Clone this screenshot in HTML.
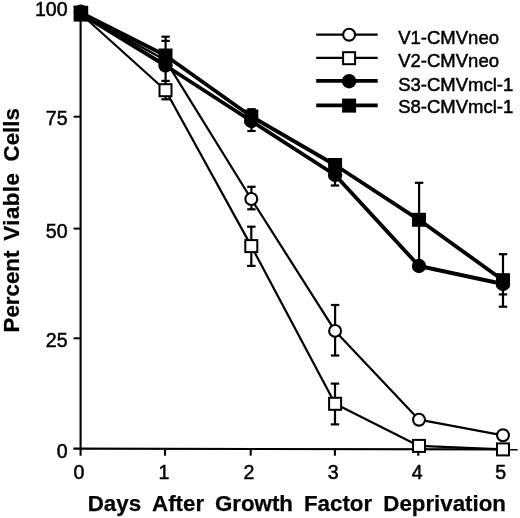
<!DOCTYPE html>
<html><head><meta charset="utf-8"><style>
html,body{margin:0;padding:0;background:#fff;}
body{width:520px;height:518px;overflow:hidden;}
svg{display:block;font-family:"Liberation Sans", sans-serif;filter:grayscale(100%);}
</style></head><body>
<svg width="520" height="518" viewBox="0 0 520 518">
<rect width="520" height="518" fill="#fff"/>
<line x1="80.6" y1="8" x2="80.6" y2="455.7" stroke="#000" stroke-width="2.1"/>
<line x1="73.3" y1="448.6" x2="517.6" y2="449.4" stroke="#000" stroke-width="2.1"/>
<line x1="73.6" y1="6.7" x2="81" y2="6.7" stroke="#000" stroke-width="2"/>
<line x1="73.6" y1="116.7" x2="81" y2="116.7" stroke="#000" stroke-width="2"/>
<line x1="73.6" y1="228.6" x2="81" y2="228.6" stroke="#000" stroke-width="2"/>
<line x1="73.6" y1="338.3" x2="81" y2="338.3" stroke="#000" stroke-width="2"/>
<line x1="165.0" y1="448" x2="165.0" y2="455.7" stroke="#000" stroke-width="2.1"/>
<line x1="250.7" y1="448" x2="250.7" y2="455.7" stroke="#000" stroke-width="2.1"/>
<line x1="334.9" y1="448" x2="334.9" y2="455.7" stroke="#000" stroke-width="2.1"/>
<line x1="418.3" y1="448" x2="418.3" y2="455.7" stroke="#000" stroke-width="2.1"/>
<line x1="503.0" y1="448" x2="503.0" y2="455.7" stroke="#000" stroke-width="2.1"/>
<polyline points="80.9,14.0 165.5,90.2 251.3,246.1 335.1,403.8 419.0,445.9 503.0,449.4" fill="none" stroke="#000" stroke-width="2.2" stroke-linejoin="round"/>
<polyline points="80.9,13.8 165.5,60.3 251.3,199.0 335.1,330.9 419.0,419.7 503.0,435.3" fill="none" stroke="#000" stroke-width="2.2" stroke-linejoin="round"/>
<polyline points="80.9,13.8 165.5,65.5 251.3,121.0 335.1,175.0 419.0,266.0 503.0,284.0" fill="none" stroke="#000" stroke-width="3.85" stroke-linejoin="round"/>
<polyline points="80.9,12.8 165.5,55.5 251.3,116.5 335.1,165.0 419.0,219.8 503.0,280.2" fill="none" stroke="#000" stroke-width="3.85" stroke-linejoin="round"/>
<line x1="165.6" y1="36.7" x2="165.6" y2="99.3" stroke="#000" stroke-width="2.2"/><line x1="161.4" y1="36.7" x2="169.8" y2="36.7" stroke="#000" stroke-width="2.2"/><line x1="161.4" y1="40.9" x2="169.8" y2="40.9" stroke="#000" stroke-width="2.2"/><line x1="161.4" y1="80.9" x2="169.8" y2="80.9" stroke="#000" stroke-width="2.2"/><line x1="161.4" y1="99.3" x2="169.8" y2="99.3" stroke="#000" stroke-width="2.2"/>
<line x1="251.5" y1="109.2" x2="251.5" y2="131" stroke="#000" stroke-width="2.2"/><line x1="247.3" y1="109.2" x2="255.7" y2="109.2" stroke="#000" stroke-width="2.2"/><line x1="247.3" y1="131" x2="255.7" y2="131" stroke="#000" stroke-width="2.2"/>
<line x1="251.4" y1="186.8" x2="251.4" y2="209.3" stroke="#000" stroke-width="2.2"/><line x1="247.2" y1="186.8" x2="255.6" y2="186.8" stroke="#000" stroke-width="2.2"/><line x1="247.2" y1="209.3" x2="255.6" y2="209.3" stroke="#000" stroke-width="2.2"/>
<line x1="251.3" y1="226.7" x2="251.3" y2="265.9" stroke="#000" stroke-width="2.2"/><line x1="247.1" y1="226.7" x2="255.5" y2="226.7" stroke="#000" stroke-width="2.2"/><line x1="247.1" y1="265.9" x2="255.5" y2="265.9" stroke="#000" stroke-width="2.2"/>
<line x1="335.0" y1="170" x2="335.0" y2="185.5" stroke="#000" stroke-width="2.2"/><line x1="330.8" y1="185.5" x2="339.2" y2="185.5" stroke="#000" stroke-width="2.2"/>
<line x1="335.1" y1="305" x2="335.1" y2="355.5" stroke="#000" stroke-width="2.2"/><line x1="330.9" y1="305" x2="339.3" y2="305" stroke="#000" stroke-width="2.2"/><line x1="330.9" y1="355.5" x2="339.3" y2="355.5" stroke="#000" stroke-width="2.2"/>
<line x1="335.0" y1="383.6" x2="335.0" y2="424.4" stroke="#000" stroke-width="2.2"/><line x1="330.8" y1="383.6" x2="339.2" y2="383.6" stroke="#000" stroke-width="2.2"/><line x1="330.8" y1="424.4" x2="339.2" y2="424.4" stroke="#000" stroke-width="2.2"/>
<line x1="419.1" y1="182.8" x2="419.1" y2="262" stroke="#000" stroke-width="2.2"/><line x1="414.9" y1="182.8" x2="423.3" y2="182.8" stroke="#000" stroke-width="2.2"/>
<line x1="503.0" y1="254.2" x2="503.0" y2="306.7" stroke="#000" stroke-width="2.2"/><line x1="498.8" y1="254.2" x2="507.2" y2="254.2" stroke="#000" stroke-width="2.2"/><line x1="498.8" y1="294.4" x2="507.2" y2="294.4" stroke="#000" stroke-width="2.2"/><line x1="498.8" y1="306.7" x2="507.2" y2="306.7" stroke="#000" stroke-width="2.2"/>
<circle cx="165.5" cy="60.3" r="5.95" fill="#fff" stroke="#000" stroke-width="2.1"/>
<circle cx="251.3" cy="199.0" r="5.95" fill="#fff" stroke="#000" stroke-width="2.1"/>
<circle cx="335.1" cy="330.9" r="5.95" fill="#fff" stroke="#000" stroke-width="2.1"/>
<circle cx="419.0" cy="419.7" r="5.95" fill="#fff" stroke="#000" stroke-width="2.1"/>
<circle cx="503.0" cy="435.3" r="5.95" fill="#fff" stroke="#000" stroke-width="2.1"/>
<rect x="159.50" y="84.20" width="12.0" height="12.0" fill="#fff" stroke="#000" stroke-width="2.0"/>
<rect x="245.30" y="240.10" width="12.0" height="12.0" fill="#fff" stroke="#000" stroke-width="2.0"/>
<rect x="329.10" y="397.80" width="12.0" height="12.0" fill="#fff" stroke="#000" stroke-width="2.0"/>
<rect x="413.00" y="439.90" width="12.0" height="12.0" fill="#fff" stroke="#000" stroke-width="2.0"/>
<rect x="497.00" y="443.40" width="12.0" height="12.0" fill="#fff" stroke="#000" stroke-width="2.0"/>
<circle cx="165.5" cy="65.5" r="7.2" fill="#000"/>
<circle cx="251.3" cy="121.0" r="7.2" fill="#000"/>
<circle cx="335.1" cy="175.0" r="7.2" fill="#000"/>
<circle cx="419.0" cy="266.0" r="7.2" fill="#000"/>
<circle cx="503.0" cy="284.0" r="7.2" fill="#000"/>
<rect x="158.50" y="48.50" width="14.0" height="14.0" fill="#000"/>
<rect x="244.30" y="109.50" width="14.0" height="14.0" fill="#000"/>
<rect x="328.10" y="158.00" width="14.0" height="14.0" fill="#000"/>
<rect x="412.00" y="212.80" width="14.0" height="14.0" fill="#000"/>
<rect x="496.00" y="273.20" width="14.0" height="14.0" fill="#000"/>
<rect x="73.6" y="5.8" width="14.6" height="15.8" fill="#000"/>
<circle cx="80.9" cy="11.6" r="7.2" fill="#000"/>
<line x1="316.2" y1="34.7" x2="377.7" y2="34.7" stroke="#000" stroke-width="2.2"/>
<line x1="316.2" y1="57.8" x2="377.7" y2="57.8" stroke="#000" stroke-width="2.2"/>
<line x1="316.2" y1="80.8" x2="377.7" y2="80.8" stroke="#000" stroke-width="3.85"/>
<line x1="316.2" y1="105.4" x2="377.7" y2="105.4" stroke="#000" stroke-width="3.85"/>
<circle cx="349.1" cy="34.7" r="5.95" fill="#fff" stroke="#000" stroke-width="2.1"/>
<rect x="343.10" y="52.20" width="12.0" height="12.0" fill="#fff" stroke="#000" stroke-width="2.0"/>
<circle cx="349.1" cy="81.2" r="7.2" fill="#000"/>
<rect x="342.10" y="98.60" width="14.0" height="14.0" fill="#000"/>
<text x="67.6" y="15.6" font-size="19.6" text-anchor="end" font-weight="normal" stroke="#000" stroke-width="0.5" >100</text>
<text x="67.6" y="125.3" font-size="19.6" text-anchor="end" font-weight="normal" stroke="#000" stroke-width="0.5" >75</text>
<text x="67.6" y="237.7" font-size="19.6" text-anchor="end" font-weight="normal" stroke="#000" stroke-width="0.5" >50</text>
<text x="67.6" y="347.0" font-size="19.6" text-anchor="end" font-weight="normal" stroke="#000" stroke-width="0.5" >25</text>
<text x="67.6" y="457.7" font-size="19.6" text-anchor="end" font-weight="normal" stroke="#000" stroke-width="0.5" >0</text>
<text x="78.9" y="479.3" font-size="19.6" text-anchor="middle" font-weight="normal" stroke="#000" stroke-width="0.5" >0</text>
<text x="164.0" y="479.3" font-size="19.6" text-anchor="middle" font-weight="normal" stroke="#000" stroke-width="0.5" >1</text>
<text x="249.0" y="479.3" font-size="19.6" text-anchor="middle" font-weight="normal" stroke="#000" stroke-width="0.5" >2</text>
<text x="333.2" y="479.3" font-size="19.6" text-anchor="middle" font-weight="normal" stroke="#000" stroke-width="0.5" >3</text>
<text x="417.2" y="479.3" font-size="19.6" text-anchor="middle" font-weight="normal" stroke="#000" stroke-width="0.5" >4</text>
<text x="500.6" y="479.3" font-size="19.6" text-anchor="middle" font-weight="normal" stroke="#000" stroke-width="0.5" >5</text>
<text x="87.74" y="510.8" font-size="22.3" text-anchor="start" font-weight="bold" stroke="#000" stroke-width="0.25" >Days</text>
<text x="152.04" y="510.8" font-size="22.3" text-anchor="start" font-weight="bold" stroke="#000" stroke-width="0.25" >After</text>
<text x="214.91" y="510.8" font-size="22.3" text-anchor="start" font-weight="bold" stroke="#000" stroke-width="0.25" >Growth</text>
<text x="303.99" y="510.8" font-size="22.3" text-anchor="start" font-weight="bold" stroke="#000" stroke-width="0.25" >Factor</text>
<text x="383.29" y="510.8" font-size="22.3" text-anchor="start" font-weight="bold" stroke="#000" stroke-width="0.25" >Deprivation</text>
<text transform="translate(18.7,332.51) rotate(-90)" x="0" y="0" font-size="22.3" font-weight="bold" stroke="#000" stroke-width="0.25" letter-spacing="0.02">Percent</text>
<text transform="translate(18.7,240.63) rotate(-90)" x="0" y="0" font-size="22.3" font-weight="bold" stroke="#000" stroke-width="0.25" letter-spacing="0.43">Viable</text>
<text transform="translate(18.7,161.39) rotate(-90)" x="0" y="0" font-size="22.3" font-weight="bold" stroke="#000" stroke-width="0.25" letter-spacing="-0.03">Cells</text>
<text x="398.2" y="44.3" font-size="18.5" text-anchor="start" font-weight="normal" stroke="#000" stroke-width="0.5" >V1-CMVneo</text>
<text x="398.2" y="67.0" font-size="18.5" text-anchor="start" font-weight="normal" stroke="#000" stroke-width="0.5" >V2-CMVneo</text>
<text x="398.2" y="90.6" font-size="18.5" text-anchor="start" font-weight="normal" stroke="#000" stroke-width="0.5" >S3-CMVmcl-1</text>
<text x="398.2" y="113.3" font-size="18.5" text-anchor="start" font-weight="normal" stroke="#000" stroke-width="0.5" >S8-CMVmcl-1</text>
</svg>
</body></html>
